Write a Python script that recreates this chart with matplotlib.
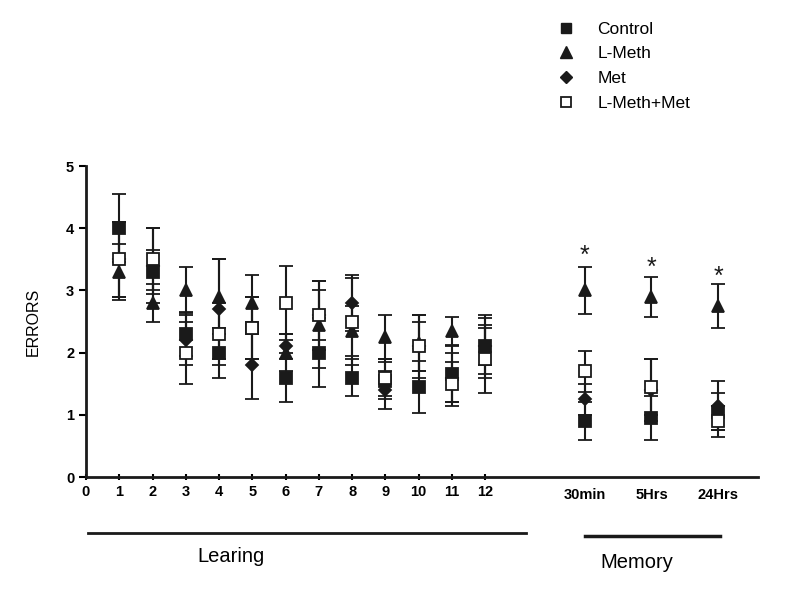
import numpy as np
import matplotlib
matplotlib.use("Agg")
import matplotlib.pyplot as plt
from matplotlib.lines import Line2D

plt.rcParams['font.family'] = ['Liberation Sans', 'DejaVu Sans']

# === Data ===
learning_days = [1, 2, 3, 4, 5, 6, 7, 8, 9, 10, 11, 12]
memory_labels = ["30min", "5Hrs", "24Hrs"]
memory_pos = [15, 17, 19]
groups = ["Control", "L-Meth", "Met", "L-Meth+Met"]

control_mean = [4.0, 3.3, 2.3, 2.0, 2.4, 1.6, 2.0, 1.6, 1.55, 1.45, 1.65, 2.1, 0.9, 0.95, 1.05]
control_err = [0.55, 0.35, 0.35, 0.4, 0.5, 0.4, 0.55, 0.3, 0.3, 0.42, 0.45, 0.3, 0.3, 0.35, 0.3]

lmeth_mean = [3.3, 2.8, 3.0, 2.9, 2.8, 2.0, 2.45, 2.35, 2.25, 2.15, 2.35, 2.1, 3.0, 2.9, 2.75]
lmeth_err = [0.45, 0.3, 0.37, 0.6, 0.45, 0.3, 0.7, 0.4, 0.35, 0.45, 0.23, 0.5, 0.38, 0.32, 0.35]

met_mean = [3.5, 3.4, 2.2, 2.7, 1.8, 2.1, 2.6, 2.8, 1.4, 2.1, 1.6, 2.1, 1.25, 1.4, 1.15]
met_err = [0.6, 0.6, 0.4, 0.8, 0.55, 0.2, 0.55, 0.45, 0.3, 0.5, 0.4, 0.45, 0.25, 0.5, 0.4]

lmm_mean = [3.5, 3.5, 2.0, 2.3, 2.4, 2.8, 2.6, 2.5, 1.6, 2.1, 1.5, 1.9, 1.7, 1.45, 0.9]
lmm_err = [0.6, 0.5, 0.5, 0.5, 0.5, 0.6, 0.4, 0.7, 0.3, 0.4, 0.35, 0.55, 0.33, 0.45, 0.25]

star_pos = [15, 17, 19]
star_y = [3.55, 3.37, 3.22]

# === Figure ===
fig = plt.figure(figsize=(7.99, 5.9), dpi=100)
ax = fig.add_axes([0.1076, 0.1915, 0.841, 0.527])

x = learning_days + memory_pos
styles = [
    (control_mean, control_err, "s", "#1a1a1a"),
    (lmeth_mean, lmeth_err, "^", "#1a1a1a"),
    (met_mean, met_err, "D", "#1a1a1a"),
    (lmm_mean, lmm_err, "s", "white"),
]
sizes = {"s": 8, "^": 9, "D": 6.5}

for mean, err, marker, face in styles:
    ax.errorbar(x, mean, yerr=err, fmt=marker, ms=sizes[marker],
                mfc=face, mec="#1a1a1a", mew=1.3, ecolor="#1a1a1a",
                elinewidth=1.5, capsize=5, capthick=1.5, zorder=3)

for px, py in zip(star_pos, star_y):
    ax.text(px, py, "*", ha="center", va="center", fontsize=18, color="#1a1a1a")

# === Axes styling ===
ax.set_xlim(0, 20.2)
ax.set_ylim(0, 5)
ax.spines['top'].set_visible(False)
ax.spines['right'].set_visible(False)
for s in ['left', 'bottom']:
    ax.spines[s].set_linewidth(2)
    ax.spines[s].set_color("#1a1a1a")

ax.set_xticks(range(0, 13))
ax.set_xticklabels([str(i) for i in range(0, 13)], fontsize=10.5, fontweight="bold")
ax.set_xticks(memory_pos, minor=True)
ax.set_xticklabels(memory_labels, minor=True, fontsize=10.5, fontweight="bold")
ax.tick_params(axis='x', which='minor', length=0, pad=8)
ax.tick_params(axis='x', which='major', length=5, width=1.5, direction='inout', pad=3)
ax.set_yticks(range(0, 6))
ax.set_yticklabels([str(i) for i in range(0, 6)], fontsize=10.5, fontweight="bold")
ax.tick_params(axis='y', length=5, width=1.5, direction='out')
ax.set_ylabel("ERRORS", fontsize=11.5, labelpad=18)

# === Bottom brackets ===
trans = ax.get_xaxis_transform()
ax.plot([0.06, 13.24], [-0.18, -0.18], color="#1a1a1a", lw=2, transform=trans, clip_on=False)
ax.plot([15.0, 19.05], [-0.19, -0.19], color="#1a1a1a", lw=2.5, transform=trans, clip_on=False)
ax.text(4.35, -0.255, "Learing", ha="center", va="center", fontsize=14.5, transform=trans)
ax.text(16.55, -0.275, "Memory", ha="center", va="center", fontsize=14.5, transform=trans)

# === Legend ===
handles = [
    Line2D([], [], ls="none", marker="s", ms=7, mfc="#1a1a1a", mec="#1a1a1a"),
    Line2D([], [], ls="none", marker="^", ms=8, mfc="#1a1a1a", mec="#1a1a1a"),
    Line2D([], [], ls="none", marker="D", ms=6, mfc="#1a1a1a", mec="#1a1a1a"),
    Line2D([], [], ls="none", marker="s", ms=7, mfc="white", mec="#1a1a1a", mew=1.3),
]
fig.legend(handles, groups, loc="upper left", bbox_to_anchor=(0.678, 0.99),
           frameon=False, fontsize=12.5, handlelength=1.0, handletextpad=1.3,
           labelspacing=0.55)

fig.savefig("out.png", dpi=100)
